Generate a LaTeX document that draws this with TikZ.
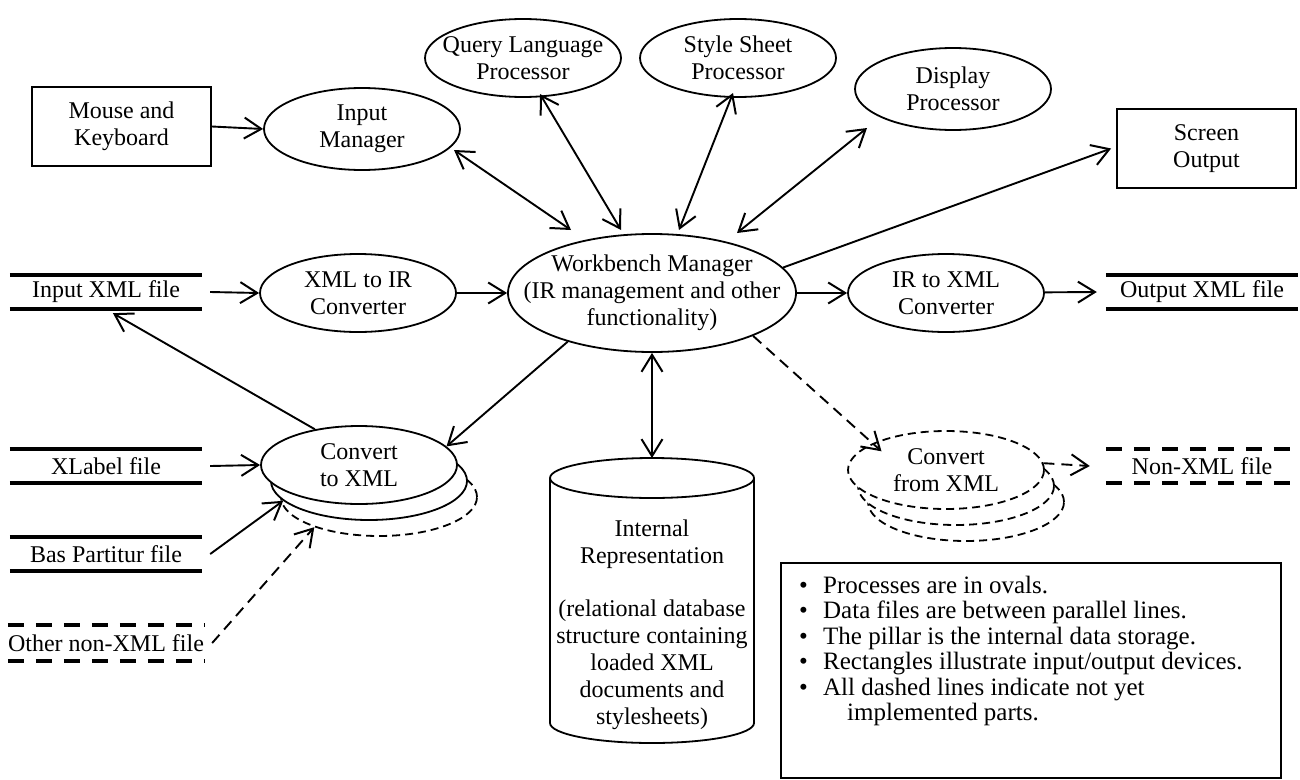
\documentclass[tikz,border=0pt]{standalone}
\usepackage{fontspec}
\setmainfont{Liberation Serif}
\usetikzlibrary{shapes.geometric,arrows.meta}
\begin{document}
\begin{tikzpicture}[x=1pt,y=-1pt,
  >={Straight Barb[length=17pt,width=21pt,line width=2pt]},
  every node/.style={font=\fontsize{24}{27}\selectfont, align=center},
  proc/.style={ellipse, draw, line width=1.8pt, minimum width=196pt, minimum height=78pt, inner xsep=-30pt, inner ysep=0pt, fill=white},
  dev/.style={rectangle, draw, line width=1.8pt, minimum width=179pt, minimum height=79pt, inner sep=0pt},
  filen/.style={minimum width=192pt, minimum height=34pt, inner sep=0pt},
  fline/.style={line width=3.5pt},
  fdash/.style={line width=3.5pt, dash pattern=on 16pt off 12pt},
  conn/.style={line width=1.9pt, ->},
  conn2/.style={line width=1.9pt, <->},
  pdash/.style={dash pattern=on 8pt off 5pt},
  cdash/.style={dash pattern=on 11pt off 7pt}
]
\useasboundingbox (0,0) rectangle (1300,779);

% devices
\node[dev] (mouse) at (121.5,126.5) {Mouse and\\Keyboard};
\node[dev] (screen) at (1206.5,148.5) {Screen\\Output};

% processes
\node[proc, minimum height=82pt] (inmgr) at (362,129) {Input\\Manager};
\node[proc] (query) at (523,58) {Query Language\\Processor};
\node[proc] (style) at (738,58) {Style Sheet\\Processor};
\node[proc, minimum height=82pt] (disp) at (953,89) {Display\\Processor};
\node[proc, minimum width=288pt, minimum height=118pt] (wb) at (652,293) {Workbench Manager\\(IR management and other\\functionality)};
\node[proc] (xml2ir) at (358,293) {XML to IR\\Converter};
\node[proc] (ir2xml) at (946,293) {IR to XML\\Converter};

% stacked converters
\node[proc, pdash] (toxmlc) at (379,497) {};
\node[proc] (toxmlb) at (369,481) {};
\node[proc] (toxml) at (359,465) {Convert\\to XML};
\node[proc, pdash] (fromxmlc) at (966,502) {};
\node[proc, pdash] (fromxmlb) at (956,486) {};
\node[proc, pdash] (fromxml) at (946,470) {Convert\\from XML};

% files
\node[filen] (inxml) at (106,292) {Input XML file};
\node[filen] (outxml) at (1202,292) {Output XML file};
\node[filen] (xlabel) at (106,466) {XLabel file};
\node[filen] (bas) at (106,554) {Bas Partitur file};
\node[filen, minimum height=36pt] (other) at (106,643) {Other non-XML file};
\node[filen] (nonxml) at (1202,466) {Non-XML file};
\foreach \f in {inxml,outxml,xlabel,bas}{
  \draw[fline] (\f.north west) -- (\f.north east) (\f.south west) -- (\f.south east);
}
\foreach \f in {other,nonxml}{
  \draw[fdash] (\f.north west) -- (\f.north east) (\f.south west) -- (\f.south east);
}

% internal representation (pillar)
\draw[line width=1.8pt] (550,478) -- (550,723) arc[start angle=180, end angle=0, x radius=102, y radius=20] -- (754,478);
\draw[line width=1.8pt] (652,478) ellipse [x radius=102, y radius=20];
\coordinate (irtop) at (652,458);
\node (ir) at (652,625) {Internal\\Representation\\[26pt](relational database\\structure containing\\loaded XML\\documents and\\stylesheets)};

% legend
\draw[line width=1.8pt] (781,563) rectangle (1281,778);
\node[anchor=west, align=left, font=\fontsize{25}{25.5}\selectfont, inner sep=0pt] (legend) at (799,651)
 {\makebox[24pt][l]{•}Processes are in ovals.\\
  \makebox[24pt][l]{•}Data files are between parallel lines.\\
  \makebox[24pt][l]{•}The pillar is the internal data storage.\\
  \makebox[24pt][l]{•}Rectangles illustrate input/output devices.\\
  \makebox[24pt][l]{•}All dashed lines indicate not yet\\
  \hspace*{48pt}implemented parts.};

% connectors
\draw[conn] (mouse.east) -- (inmgr.west);
\draw[conn2] ([shift={(92,21)}]inmgr.center) -- ([shift={(-81,-63)}]wb.center);
\draw[conn2] ([shift={(17,36)}]query.center) -- ([shift={(-31,-63)}]wb.center);
\draw[conn2] ([shift={(-5,35)}]style.center) -- ([shift={(27,-63)}]wb.center);
\draw[conn2] ([shift={(-86,39)}]disp.center) -- ([shift={(85,-60)}]wb.center);
\draw[conn] (wb.11) -- ([xshift=-5pt]screen.west);
\draw[conn] ([xshift=8pt]inxml.east) -- (xml2ir.west);
\draw[conn] (xml2ir) -- (wb);
\draw[conn] (wb) -- (ir2xml);
\draw[conn] (ir2xml) -- ([xshift=-9pt]outxml.west);
\draw[conn] (wb.210) -- (toxml.12);
\draw[conn2] (wb.south) -- (irtop);
\draw[conn, cdash, shorten >=-12pt] (wb.-23) -- (fromxml.160);
\draw[conn, cdash] (fromxml.4) -- ([xshift=-16pt]nonxml.west);
\draw[conn] ([xshift=8pt]xlabel.east) -- (toxml.west);
\draw[conn] ([xshift=8pt]bas.east) -- (toxmlb.193);
\draw[conn, cdash] ([xshift=8pt]other.east) -- (toxmlc.205);
\draw[conn, shorten >=8pt] (toxml.141) -- (inxml.south);
\end{tikzpicture}
\end{document}
